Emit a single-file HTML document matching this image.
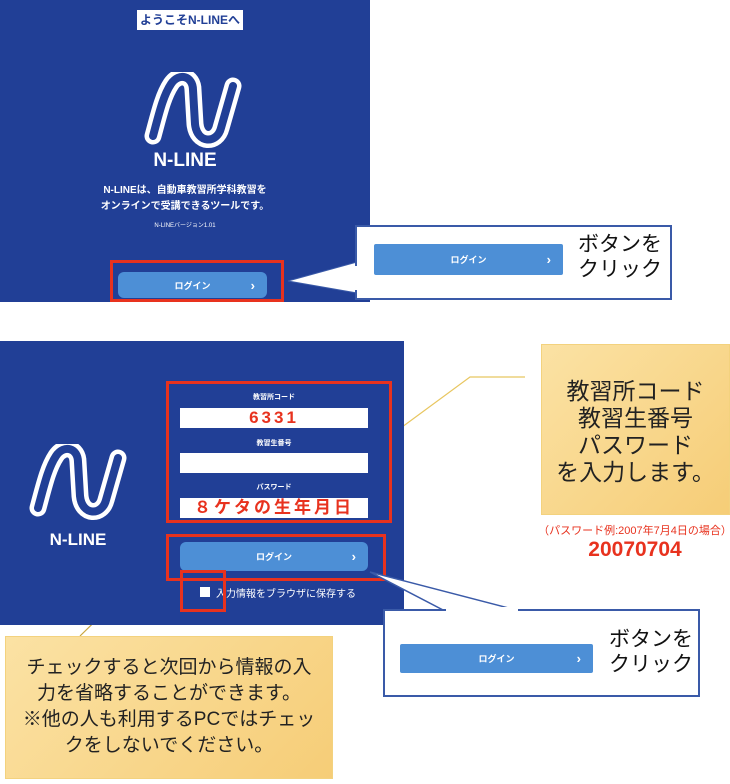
<!DOCTYPE html>
<html><head><meta charset="utf-8"><style>
body{margin:0;width:730px;height:784px;background:#fff;position:relative;overflow:hidden;font-family:"Liberation Sans","Noto Sans CJK JP",sans-serif;}
.a{position:absolute;}
.panel{background:#213f96;}
.btn{background:#4d8fd6;border-radius:6px;color:#fff;font-size:9px;font-weight:bold;display:flex;align-items:center;justify-content:center;}
.btn span{position:absolute;right:12px;font-size:13px;}
.red{border:3px solid #e8321e;box-sizing:border-box;}
.fld{background:#fff;color:#e8321e;font-weight:bold;font-size:17px;text-align:center;line-height:20px;letter-spacing:3px;}
.lbl{color:#fff;font-size:7px;font-weight:bold;text-align:center;}
.yel{background:linear-gradient(135deg,#fbe2a4,#f6cd77);border:1px solid #f3d27e;box-sizing:border-box;}
.c{text-align:center;}
</style></head><body>
<!-- top panel -->
<div class="a panel" style="left:0;top:0;width:370px;height:302px;"></div>
<div class="a c" style="left:137px;top:10px;width:106px;height:20px;background:#fff;color:#213f96;font-size:12px;font-weight:bold;line-height:20px;">ようこそN-LINEへ</div>
<svg class="a" style="left:143px;top:72px" width="100" height="80" viewBox="0 0 100 80">
<path d="M10,64 C16,42 20,24 28,12 C36,0 50,4 50,18 L52,52 C54,72 74,72 78,56 L90,14" fill="none" stroke="#fff" stroke-width="17" stroke-linecap="round" stroke-linejoin="round"/>
<path d="M10,64 C16,42 20,24 28,12 C36,0 50,4 50,18 L52,52 C54,72 74,72 78,56 L90,14" fill="none" stroke="#213f96" stroke-width="8" stroke-linecap="round" stroke-linejoin="round"/>
</svg>
<div class="a c" style="left:100px;top:150px;width:170px;color:#fff;font-size:19px;font-weight:bold;">N-LINE</div>
<div class="a c" style="left:80px;top:183px;width:210px;color:#fff;font-size:10px;font-weight:bold;line-height:16px;">N-LINEは、自動車教習所学科教習を<br>オンラインで受講できるツールです。</div>
<div class="a c" style="left:130px;top:220px;width:110px;color:#fff;font-size:6px;">N-LINEバージョン1.01</div>
<div class="a btn" style="left:118px;top:272px;width:149px;height:26px;">ログイン<span>›</span></div>
<div class="a red" style="left:110px;top:260px;width:174px;height:42px;"></div>
<!-- callout 1 -->
<svg class="a" style="left:0;top:0" width="730" height="784">
<polygon points="288,281 357,262 357,293" fill="#fff" stroke="#3a5aa8" stroke-width="1"/>
<polyline points="398,430 470,377 525,377" fill="none" stroke="#e8c660" stroke-width="1.2"/>
<polyline points="80,636 120,597 180,597" fill="none" stroke="#c9a640" stroke-width="1.2"/>
</svg>
<div class="a" style="left:355px;top:225px;width:317px;height:75px;background:#fff;border:2px solid #3a5aa8;box-sizing:border-box;"></div>
<div class="a" style="left:352px;top:266px;width:6px;height:24px;background:#fff;"></div>
<div class="a btn" style="left:374px;top:244px;width:189px;height:31px;border-radius:2px;">ログイン<span>›</span></div>
<div class="a" style="left:578px;top:232px;font-size:21px;line-height:25px;color:#111;">ボタンを<br>クリック</div>
<!-- bottom panel -->
<div class="a panel" style="left:0;top:341px;width:404px;height:284px;"></div>
<svg class="a" style="left:28px;top:444px" width="100" height="80" viewBox="0 0 100 80">
<path d="M10,64 C16,42 20,24 28,12 C36,0 50,4 50,18 L52,52 C54,72 74,72 78,56 L90,14" fill="none" stroke="#fff" stroke-width="17" stroke-linecap="round" stroke-linejoin="round"/>
<path d="M10,64 C16,42 20,24 28,12 C36,0 50,4 50,18 L52,52 C54,72 74,72 78,56 L90,14" fill="none" stroke="#213f96" stroke-width="8" stroke-linecap="round" stroke-linejoin="round"/>
</svg>
<div class="a c" style="left:28px;top:530px;width:100px;color:#fff;font-size:17px;font-weight:bold;">N-LINE</div>
<div class="a lbl" style="left:180px;top:392px;width:188px;">教習所コード</div>
<div class="a fld" style="left:180px;top:408px;width:188px;height:20px;">6331</div>
<div class="a lbl" style="left:180px;top:438px;width:188px;">教習生番号</div>
<div class="a fld" style="left:180px;top:453px;width:188px;height:20px;"></div>
<div class="a lbl" style="left:180px;top:482px;width:188px;">パスワード</div>
<div class="a fld" style="left:180px;top:498px;width:188px;height:20px;">８ケタの生年月日</div>
<div class="a red" style="left:166px;top:381px;width:226px;height:142px;"></div>
<div class="a btn" style="left:180px;top:542px;width:188px;height:29px;">ログイン<span>›</span></div>
<div class="a red" style="left:166px;top:534px;width:220px;height:47px;"></div>
<div class="a" style="left:200px;top:587px;width:10px;height:10px;background:#fff;"></div>
<div class="a" style="left:216px;top:585px;color:#fff;font-size:10px;">入力情報をブラウザに保存する</div>
<div class="a red" style="left:180px;top:570px;width:46px;height:42px;"></div>
<!-- callout right yellow -->
<div class="a yel c" style="left:541px;top:344px;width:189px;height:171px;padding-top:33px;font-size:23px;line-height:27px;color:#222;">教習所コード<br>教習生番号<br>パスワード<br>を入力します。</div>
<div class="a c" style="left:530px;top:522px;width:210px;color:#e8321e;font-size:11px;">（パスワード例:2007年7月4日の場合）</div>
<div class="a c" style="left:530px;top:538px;width:210px;color:#e8321e;font-size:21px;font-weight:bold;">20070704</div>
<!-- callout bottom -->
<svg class="a" style="left:0;top:0" width="730" height="784">
<polygon points="370,572 445,611 520,611" fill="#fff" stroke="#3a5aa8" stroke-width="1.5"/>
</svg>
<div class="a" style="left:383px;top:609px;width:317px;height:88px;background:#fff;border:2px solid #3a5aa8;box-sizing:border-box;"></div>
<div class="a" style="left:446px;top:607px;width:72px;height:5px;background:#fff;"></div>
<div class="a btn" style="left:400px;top:644px;width:193px;height:29px;border-radius:2px;">ログイン<span>›</span></div>
<div class="a" style="left:609px;top:627px;font-size:21px;line-height:25px;color:#111;">ボタンを<br>クリック</div>
<!-- yellow bottom left -->
<div class="a yel c" style="left:5px;top:636px;width:328px;height:143px;padding-top:18px;font-size:19px;line-height:26px;color:#222;">チェックすると次回から情報の入<br>力を省略することができます。<br>※他の人も利用するPCではチェッ<br>クをしないでください。</div>
</body></html>
